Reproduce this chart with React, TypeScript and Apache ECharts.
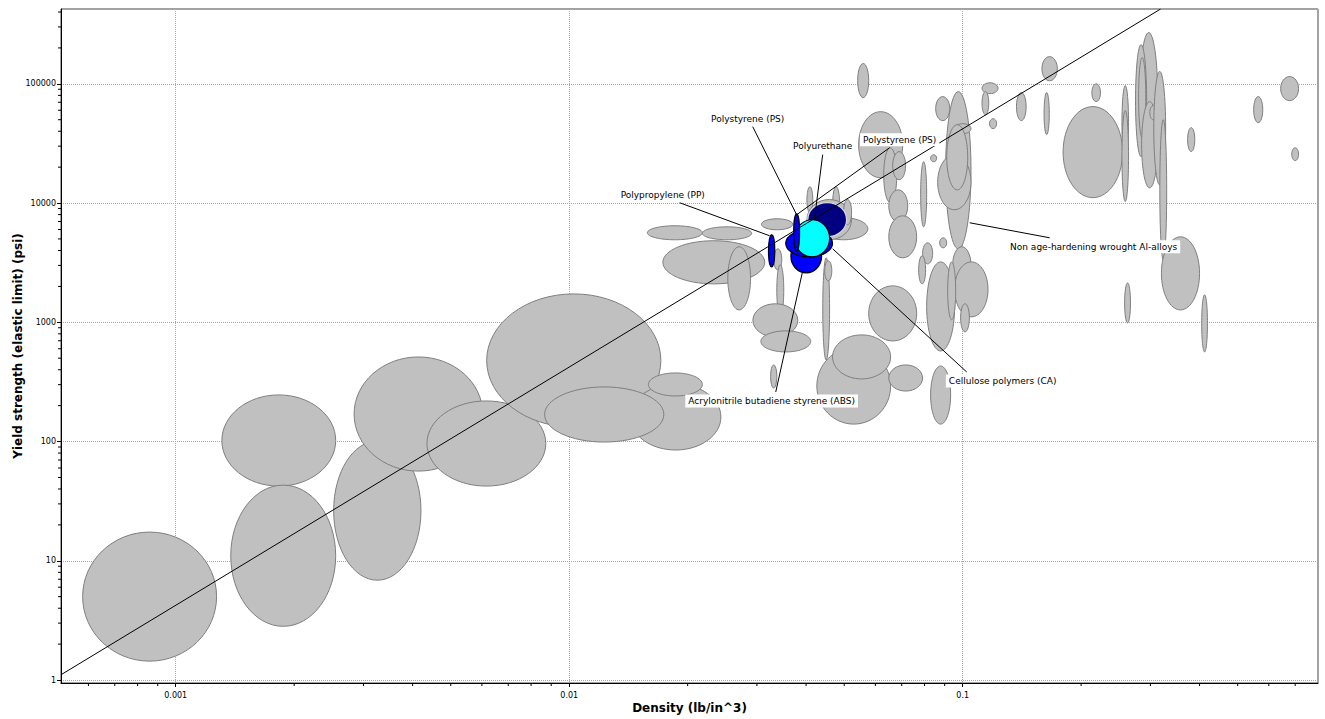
import React, { useEffect, useRef } from "react";
import * as echarts from "echarts";

// Axis extents (lb/in^3 and psi)
const X_MIN = 0.000511;
const X_MAX = 0.8;
const Y_MIN = 0.944;
const Y_MAX = 424000;

// Minor (logarithmic) tick values
const xMinorTicks = [
  0.0006, 0.0007, 0.0008, 0.0009,
  0.002, 0.003, 0.004, 0.005, 0.006, 0.007, 0.008, 0.009,
  0.02, 0.03, 0.04, 0.05, 0.06, 0.07, 0.08, 0.09,
  0.2, 0.3, 0.4, 0.5, 0.6, 0.7,
];
const yMinorTicks = [
  2, 3, 4, 5, 6, 7, 8, 9,
  20, 30, 40, 50, 60, 70, 80, 90,
  200, 300, 400, 500, 600, 700, 800, 900,
  2000, 3000, 4000, 5000, 6000, 7000, 8000, 9000,
  20000, 30000, 40000, 50000, 60000, 70000, 80000, 90000,
  200000, 300000, 400000,
];

// Material property bubbles: [densityLow, densityHigh, yieldLow, yieldHigh]
const grayMaterials: number[][] = [
  [0.00058, 0.00127, 1.44, 17.4],
  [0.00131, 0.00255, 42.3, 246],
  [0.00138, 0.00255, 2.82, 43.1],
  [0.00252, 0.0042, 6.87, 101],
  [0.00284, 0.00603, 56.5, 512],
  [0.00435, 0.00872, 42.3, 219],
  [0.00617, 0.0171, 132, 1730],
  [0.0143, 0.0243, 84.9, 304],
  [0.00866, 0.0174, 99, 287],
  [0.0159, 0.0218, 241, 376],
  [0.0173, 0.0314, 2100, 4830],
  [0.0158, 0.0218, 4920, 6450],
  [0.0218, 0.0291, 4920, 6320],
  [0.0253, 0.0289, 1270, 4300],
  [0.0308, 0.037, 5970, 7380],
  [0.0331, 0.0347, 2750, 4130],
  [0.0337, 0.0351, 1150, 3030],
  [0.0325, 0.0337, 281, 439],
  [0.0293, 0.0381, 754, 1430],
  [0.0307, 0.0411, 564, 847],
  [0.0441, 0.0459, 483, 3470],
  [0.0446, 0.0465, 2230, 3280],
  [0.0426, 0.0656, 140, 610],
  [0.0467, 0.0656, 335, 784],
  [0.0649, 0.0791, 265, 439],
  [0.0577, 0.0764, 698, 2020],
  [0.0829, 0.0932, 140, 430],
  [0.081, 0.0954, 575, 3210],
  [0.0402, 0.0416, 8290, 13700],
  [0.0467, 0.0487, 6830, 13700],
  [0.0433, 0.0574, 4920, 7530],
  [0.0402, 0.0522, 4920, 10700],
  [0.0498, 0.0522, 6570, 10700],
  [0.0541, 0.0577, 76600, 148000],
  [0.0544, 0.0704, 16300, 58400],
  [0.063, 0.068, 10100, 29100],
  [0.0664, 0.0716, 15700, 27000],
  [0.0649, 0.0725, 6970, 12900],
  [0.0649, 0.0764, 3470, 7820],
  [0.0782, 0.081, 6320, 22200],
  [0.0829, 0.0859, 22200, 25400],
  [0.0854, 0.0927, 49100, 78100],
  [0.0905, 0.105, 4130, 86000],
  [0.0864, 0.105, 8790, 25400],
  [0.0954, 0.105, 38200, 46300],
  [0.0911, 0.103, 12900, 45400],
  [0.0943, 0.105, 2100, 4300],
  [0.0954, 0.116, 1110, 3210],
  [0.0988, 0.104, 831, 1430],
  [0.0916, 0.096, 1050, 3210],
  [0.0874, 0.0911, 4210, 5110],
  [0.0791, 0.0839, 3090, 4640],
  [0.0773, 0.0805, 2100, 3610],
  [0.159, 0.174, 106000, 169000],
  [0.112, 0.123, 82700, 102000],
  [0.112, 0.1165, 55100, 86000],
  [0.117, 0.122, 42100, 51000],
  [0.137, 0.145, 49100, 84400],
  [0.161, 0.166, 37500, 84400],
  [0.213, 0.224, 70900, 100000],
  [0.18, 0.255, 11100, 64400],
  [0.254, 0.264, 23100, 96600],
  [0.254, 0.264, 10300, 59600],
  [0.282, 0.313, 24500, 269000],
  [0.275, 0.2935, 24500, 213000],
  [0.28, 0.292, 35400, 166000],
  [0.285, 0.313, 13400, 70900],
  [0.299, 0.311, 50000, 65600],
  [0.306, 0.328, 14200, 127000],
  [0.317, 0.33, 3340, 50000],
  [0.373, 0.389, 27000, 42900],
  [0.549, 0.579, 47200, 78100],
  [0.643, 0.714, 72300, 115000],
  [0.686, 0.714, 22700, 29100],
  [0.405, 0.419, 564, 1700],
  [0.32, 0.4, 1270, 5210],
  [0.258, 0.267, 988, 2140],
];

// Highlighted materials (drawn on top, in this order)
const highlightNames = [
  "Polyurethane",
  "Acrylonitrile butadiene styrene (ABS)",
  "Cellulose polymers (CA)",
  "Polyurethane (foam)",
  "Polystyrene (PS)",
  "Polypropylene (PP)",
];
const highlightRanges: number[][] = [
  [0.0404, 0.0507, 5210, 10100],
  [0.0366, 0.0438, 2600, 4920],
  [0.0355, 0.0467, 3540, 5970],
  [0.0374, 0.0459, 3540, 7240],
  [0.0372, 0.0385, 3980, 8130],
  [0.0321, 0.0333, 2920, 5420],
];
const highlightColors = ["#000080", "#0000ff", "#0000ff", "#00ffff", "#0000ff", "#0000ff"];
const highlightStrokes = ["#d8d8d8", "#000000", "#000000", "#000000", "#000000", "#000000"];

// Guideline (slope 2 in log-log)
const guideDensity = [0.000511, 0.3185];
const guideStrength = [1.107, 424000];

// Annotations: label center, leader start (label side), leader end (material)
const annotationTexts = [
  "Polypropylene (PP)",
  "Polystyrene (PS)",
  "Polyurethane",
  "Polystyrene (PS)",
  "Non age-hardening wrought Al-alloys",
  "Cellulose polymers (CA)",
  "Acrylonitrile butadiene styrene (ABS)",
];
const annotationPoints: number[][] = [
  [0.01729, 11740, 0.01909, 10060, 0.03232, 5314],
  [0.02842, 51030, 0.02927, 43710, 0.03785, 7977],
  [0.04408, 30280, 0.04408, 25440, 0.04206, 7527],
  [0.06918, 34010, 0.06524, 29130, 0.03785, 7977],
  [0.2152, 4297, 0.1664, 5111, 0.1042, 6833],
  [0.1264, 322, 0.1024, 383, 0.04673, 4134],
  [0.0327, 218.8, 0.03349, 260, 0.03922, 2702],
];

const FONT = "DejaVu Sans";

const isPow10 = (v: number) => {
  const l = Math.log10(v);
  return Math.abs(l - Math.round(l)) < 1e-6;
};
const tickLabel = (v: number) => (isPow10(v) ? String(Number(v.toPrecision(6))) : "");

function ellipseItem(api: any, fill: string, stroke: string, lw: number) {
  const p1 = api.coord([api.value(0), api.value(2)]);
  const p2 = api.coord([api.value(1), api.value(3)]);
  return {
    type: "ellipse",
    shape: {
      cx: (p1[0] + p2[0]) / 2,
      cy: (p1[1] + p2[1]) / 2,
      rx: Math.abs(p2[0] - p1[0]) / 2,
      ry: Math.abs(p2[1] - p1[1]) / 2,
    },
    style: { fill, stroke, lineWidth: lw },
  };
}

export default function App() {
  const ref = useRef<HTMLDivElement>(null);
  useEffect(() => {
    document.body.style.margin = "0";
    const chart = echarts.init(ref.current!, null, { renderer: "svg" });
    const axisCommon = {
      type: "log",
      logBase: 10,
      axisLine: { show: true, lineStyle: { color: "#000", width: 1 } },
      axisTick: { show: true, length: 4, lineStyle: { color: "#000", width: 1 } },
      splitLine: { show: true, lineStyle: { type: "dotted", color: "#a8a8a8", width: 1 } },
      minorTick: { show: false },
      minorSplitLine: { show: false },
      nameLocation: "middle",
      nameMoveOverlap: false,
      nameTextStyle: { fontFamily: FONT, fontWeight: "bold", fontSize: 12, color: "#000" },
    };
    const option: any = {
      animation: false,
      backgroundColor: "#fff",
      grid: {
        left: 61,
        right: 7,
        top: 9,
        bottom: 36,
        containLabel: false,
        outerBoundsMode: "none",
        show: true,
        borderColor: "#444",
        borderWidth: 1,
        backgroundColor: "#fff",
      },
      xAxis: {
        ...axisCommon,
        min: X_MIN,
        max: X_MAX,
        name: "Density (lb/in^3)",
        nameGap: 19,
        axisLabel: {
          fontFamily: FONT,
          fontSize: 8,
          color: "#000",
          margin: 8,
          formatter: tickLabel,
          showMinLabel: false,
          showMaxLabel: false,
        },
      },
      yAxis: {
        ...axisCommon,
        min: Y_MIN,
        max: Y_MAX,
        name: "Yield strength (elastic limit) (psi)",
        nameGap: 37,
        nameRotate: 90,
        axisLabel: {
          fontFamily: FONT,
          fontSize: 8,
          color: "#000",
          margin: 5,
          formatter: tickLabel,
          showMinLabel: false,
          showMaxLabel: false,
        },
      },
      series: [
        {
          type: "custom",
          name: "materials",
          data: grayMaterials,
          encode: { x: [0, 1], y: [2, 3] },
          clip: true,
          z: 2,
          silent: true,
          renderItem: (_p: any, api: any) => ellipseItem(api, "#c0c0c0", "#7f7f7f", 1),
        },
        {
          type: "custom",
          name: "highlighted",
          data: highlightRanges,
          encode: { x: [0, 1], y: [2, 3] },
          clip: true,
          z: 3,
          silent: true,
          renderItem: (p: any, api: any) =>
            ellipseItem(api, highlightColors[p.dataIndex], highlightStrokes[p.dataIndex], 1.2),
        },
        {
          type: "line",
          name: "guideline",
          data: guideDensity.map((d, i) => [d, guideStrength[i]]),
          symbol: "none",
          lineStyle: { color: "#000", width: 1 },
          z: 4,
          silent: true,
        },
        {
          type: "custom",
          name: "annotations",
          data: annotationPoints,
          encode: { x: [0, 2, 4], y: [1, 3, 5] },
          clip: false,
          z: 5,
          silent: true,
          renderItem: (p: any, api: any) => {
            const lc = api.coord([api.value(0), api.value(1)]);
            const ls = api.coord([api.value(2), api.value(3)]);
            const te = api.coord([api.value(4), api.value(5)]);
            return {
              type: "group",
              children: [
                {
                  type: "line",
                  shape: { x1: ls[0], y1: ls[1], x2: te[0], y2: te[1] },
                  style: { stroke: "#000", lineWidth: 1 },
                },
                {
                  type: "text",
                  x: lc[0],
                  y: lc[1],
                  style: {
                    text: annotationTexts[p.dataIndex],
                    fontFamily: FONT,
                    fontSize: 9,
                    fill: "#000",
                    align: "center",
                    verticalAlign: "middle",
                    backgroundColor: "#fff",
                    padding: [2, 3],
                  },
                },
              ],
            };
          },
        },
        {
          type: "custom",
          name: "xMinorTicks",
          data: xMinorTicks.map((v) => [v, Y_MIN]),
          encode: { x: 0, y: 1 },
          clip: false,
          z: 6,
          silent: true,
          renderItem: (_p: any, api: any) => {
            const pt = api.coord([api.value(0), api.value(1)]);
            return {
              type: "line",
              shape: { x1: pt[0], y1: pt[1], x2: pt[0], y2: pt[1] + 3 },
              style: { stroke: "#000", lineWidth: 1 },
            };
          },
        },
        {
          type: "custom",
          name: "yMinorTicks",
          data: yMinorTicks.map((v) => [X_MIN, v]),
          encode: { x: 0, y: 1 },
          clip: false,
          z: 6,
          silent: true,
          renderItem: (_p: any, api: any) => {
            const pt = api.coord([api.value(0), api.value(1)]);
            return {
              type: "line",
              shape: { x1: pt[0] - 3, y1: pt[1], x2: pt[0], y2: pt[1] },
              style: { stroke: "#000", lineWidth: 1 },
            };
          },
        },
      ],
    };
    chart.setOption(option);
    return () => chart.dispose();
  }, []);
  return <div ref={ref} style={{ width: 1325, height: 719 }} />;
}
